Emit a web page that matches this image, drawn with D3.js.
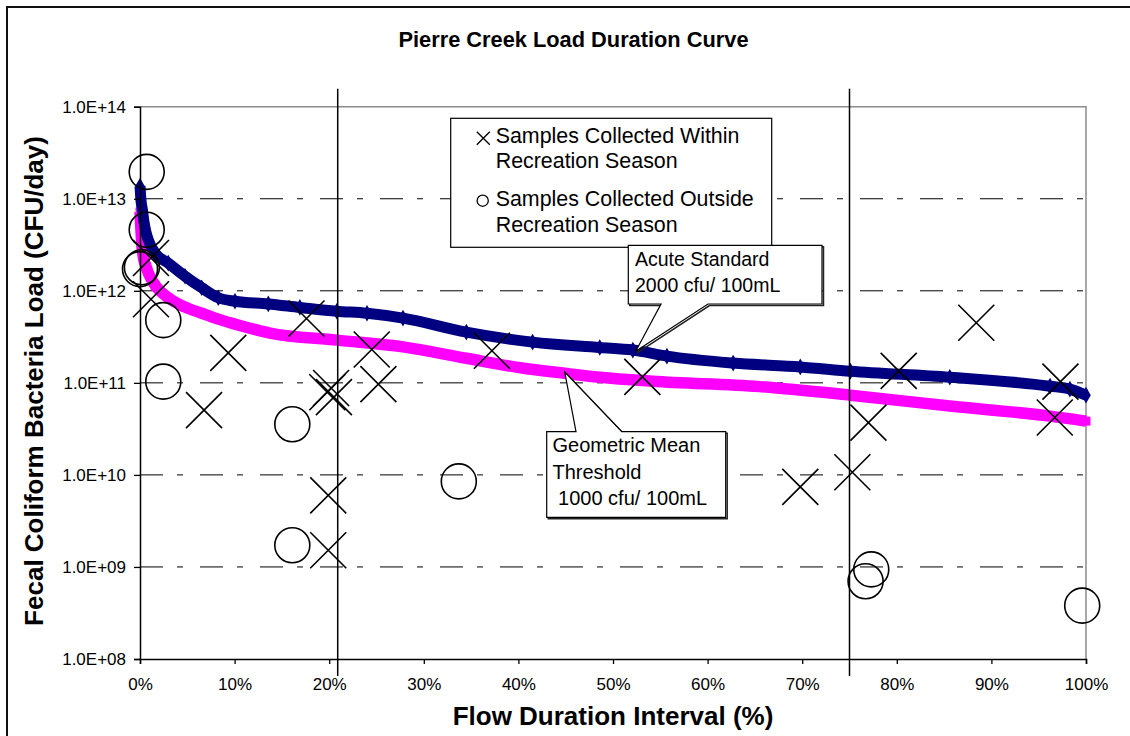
<!DOCTYPE html>
<html>
<head>
<meta charset="utf-8">
<script src="https://cdn.jsdelivr.net/npm/d3@7/dist/d3.min.js"></script>
<style>
    body { margin: 0; background: #fff; }
    text { font-family: Arial, "Liberation Sans", sans-serif; fill: #000; }
</style>
</head>
<body>
<div id="chart"></div>
<script>
// acute standard curve (2000 cfu/100mL)
const acutePct  = [0, 0.1, 0.26, 0.42, 0.63, 0.88, 1.59, 2.99, 4.76, 6.52, 8.28, 10.04, 13.56, 16.9, 20.8, 24.0, 27.8, 34.5, 41.5, 48.6, 52.1, 55.7, 62.7, 69.8, 75.1, 85.6, 96.2, 98.3, 100];
const acuteLoad = [1.37e13, 9.7e12, 7.5e12, 5.6e12, 4.35e12, 3.56e12, 2.57e12, 2.0e12, 1.44e12, 1.08e12, 8.4e11, 7.7e11, 7.2e11, 6.6e11, 6.0e11, 5.7e11, 5.05e11, 3.56e11, 2.77e11, 2.42e11, 2.27e11, 1.95e11, 1.64e11, 1.49e11, 1.34e11, 1.15e11, 9.2e10, 8.55e10, 7.35e10];

// geometric mean threshold curve (1000 cfu/100mL)
const geoPct  = [0, 0.1, 0.2, 0.37, 0.63, 0.88, 1.59, 2.99, 4.76, 6.52, 7.93, 10.04, 13.74, 20.8, 27.8, 34.5, 40.2, 44.9, 48.6, 54.2, 65.5, 75.1, 85.6, 96.2, 100];
const geoLoad = [7.2e12, 4.6e12, 3.14e12, 2.27e12, 1.85e12, 1.56e12, 1.15e12, 8.4e11, 6.65e11, 5.7e11, 5.05e11, 4.35e11, 3.47e11, 2.91e11, 2.46e11, 1.85e11, 1.46e11, 1.27e11, 1.15e11, 1.04e11, 9.1e10, 7.35e10, 5.6e10, 4.35e10, 3.84e10];

// samples within recreation season
const withinPct  = [1.16, 1.16, 6.77, 9.33, 17.6, 19.8, 20.2, 20.5, 19.9, 19.9, 24.5, 25.2, 37.2, 53.1, 69.8, 75.3, 77.0, 80.2, 88.4, 97.3, 96.7];
const withinLoad = [2.27e12, 8.1e11, 5.05e10, 2.12e11, 5.0e11, 7.9e10, 8.8e10, 7.0e10, 6.0e9, 1.52e9, 2.3e11, 9.7e10, 2.23e11, 1.16e11, 7.4e9, 1.07e10, 3.7e10, 1.35e11, 4.5e11, 1.03e11, 4.2e10];

// samples outside recreation season
const outsidePct  = [0.71, 0.71, 0.0, 0.2, 2.46, 2.46, 16.1, 16.1, 33.7, 77.3, 76.7, 99.6];
const outsideLoad = [1.96e13, 4.6e12, 1.72e12, 1.8e12, 4.8e11, 1.03e11, 3.55e10, 1.72e9, 8.5e9, 9.4e8, 7.0e8, 3.8e8];

const yTicks = [1e8, 1e9, 1e10, 1e11, 1e12, 1e13, 1e14];
const xTicks = [0, 10, 20, 30, 40, 50, 60, 70, 80, 90, 100];
const regimeBreaks = [20.9, 75.0];

const legendLabels = [
    ["Samples Collected Within", "Recreation Season"],
    ["Samples Collected Outside", "Recreation Season"]
];
const acuteLabel = ["Acute Standard", "2000 cfu/ 100mL"];
const geoLabel = ["Geometric Mean", "Threshold", " 1000 cfu/ 100mL"];

let width = 1130, height = 736;
let margin = {left: 140, right: 44, top: 106.7, bottom: 77};

let svg = d3.select("#chart")
    .append("svg")
    .attr("width", width)
    .attr("height", height);

let x = d3.scaleLinear().domain([0, 100]).range([margin.left, width - margin.right]);
let y = d3.scaleLog().domain([1e8, 1e14]).range([height - margin.bottom, margin.top]);

// outer chart frame
svg.append("rect")
    .attr("x", 7).attr("y", 7)
    .attr("width", 1140).attr("height", 760)
    .attr("fill", "none")
    .attr("stroke", "#111")
    .attr("stroke-width", 2);

// dashed gridlines
svg.append("g")
    .selectAll("line")
    .data(yTicks.slice(1, -1))
    .join("line")
    .attr("x1", x(0)).attr("x2", x(100))
    .attr("y1", d => y(d)).attr("y2", d => y(d))
    .attr("stroke", "#000")
    .attr("stroke-width", 1)
    .attr("stroke-dasharray", "23,14,6,17");

// plot area border top/right (grey)
svg.append("path")
    .attr("d", `M${x(0)},${y(1e14)}H${x(100)}V${y(1e8)}`)
    .attr("fill", "none")
    .attr("stroke", "#8c8c8c")
    .attr("stroke-width", 1.5);

let line = d3.line()
    .x(d => x(d[0]))
    .y(d => y(d[1]))
    .curve(d3.curveMonotoneX);

let geoData = geoPct.map((p, i) => [p, geoLoad[i]]);
let acuteData = acutePct.map((p, i) => [p, acuteLoad[i]]);

svg.append("path")
    .datum(geoData)
    .attr("d", line)
    .attr("fill", "none")
    .attr("stroke", "#ff00ff")
    .attr("stroke-width", 11.5)
    .attr("stroke-linejoin", "round");

svg.append("g")
    .selectAll("path")
    .data(geoData)
    .join("path")
    .attr("transform", d => `translate(${x(d[0])},${y(d[1])})`)
    .attr("d", d3.symbol(d3.symbolSquare, 80))
    .attr("fill", "#ff00ff");

svg.append("path")
    .datum(acuteData)
    .attr("d", line)
    .attr("fill", "none")
    .attr("stroke", "#000080")
    .attr("stroke-width", 11)
    .attr("stroke-linejoin", "round");

svg.append("g")
    .selectAll("path")
    .data(acuteData)
    .join("path")
    .attr("transform", d => `translate(${x(d[0])},${y(d[1])})`)
    .attr("d", d3.symbol(d3.symbolDiamond, 80))
    .attr("fill", "#000080");

// flow regime break lines
svg.append("g")
    .selectAll("line")
    .data(regimeBreaks)
    .join("line")
    .attr("x1", d => x(d)).attr("x2", d => x(d))
    .attr("y1", y(1e14) - 18).attr("y2", y(1e8) + 17)
    .attr("stroke", "#000")
    .attr("stroke-width", 1.5);

// samples
let crossPath = "M-18,-18L18,18M18,-18L-18,18";

svg.append("g")
    .selectAll("path")
    .data(withinPct.map((p, i) => [p, withinLoad[i]]))
    .join("path")
    .attr("transform", d => `translate(${x(d[0])},${y(d[1])})`)
    .attr("d", crossPath)
    .attr("fill", "none")
    .attr("stroke", "#000")
    .attr("stroke-width", 1.6);

svg.append("g")
    .selectAll("circle")
    .data(outsidePct.map((p, i) => [p, outsideLoad[i]]))
    .join("circle")
    .attr("cx", d => x(d[0]))
    .attr("cy", d => y(d[1]))
    .attr("r", 17.5)
    .attr("fill", "none")
    .attr("stroke", "#000")
    .attr("stroke-width", 1.6);

// axes
let yAxis = svg.append("g")
    .attr("transform", `translate(${x(0)},0)`)
    .call(d3.axisLeft(y)
        .tickValues(yTicks)
        .tickSize(6)
        .tickPadding(8)
        .tickFormat(d => "1.0E+" + String(Math.round(Math.log10(d))).padStart(2, "0")));

let xAxis = svg.append("g")
    .attr("transform", `translate(0,${y(1e8)})`)
    .call(d3.axisBottom(x)
        .tickValues(xTicks)
        .tickSize(5)
        .tickPadding(14)
        .tickFormat(d => d + "%"));

[xAxis, yAxis].forEach(a => {
    a.select(".domain").attr("stroke", "#000").attr("stroke-width", 1.5);
    a.selectAll(".tick line").attr("stroke", "#000").attr("stroke-width", 1.3);
    a.selectAll(".tick text")
        .attr("fill", "#000")
        .style("font-family", "Arial, 'Liberation Sans', sans-serif")
        .style("font-size", "17px");
});

// titles
svg.append("text")
    .attr("x", 573.5).attr("y", 46.5)
    .attr("text-anchor", "middle")
    .style("font-size", "21.8px")
    .style("font-weight", "bold")
    .text("Pierre Creek Load Duration Curve");

svg.append("text")
    .attr("x", (x(0) + x(100)) / 2).attr("y", 725)
    .attr("text-anchor", "middle")
    .style("font-size", "26px")
    .style("font-weight", "bold")
    .text("Flow Duration Interval (%)");

svg.append("text")
    .attr("transform", `translate(43,381) rotate(-90)`)
    .attr("text-anchor", "middle")
    .style("font-size", "26px")
    .style("font-weight", "bold")
    .text("Fecal Coliform Bacteria Load (CFU/day)");

// legend
let legend = svg.append("g").attr("transform", "translate(450.7,118.3)");
legend.append("rect")
    .attr("width", 321).attr("height", 129)
    .attr("fill", "#fff")
    .attr("stroke", "#000")
    .attr("stroke-width", 1.2);

legend.append("path")
    .attr("d", "M-6.5,-6.5L6.5,6.5M6.5,-6.5L-6.5,6.5")
    .attr("transform", "translate(32.6,20)")
    .attr("stroke", "#000")
    .attr("stroke-width", 1.3);

legend.append("circle")
    .attr("cx", 32).attr("cy", 82.4).attr("r", 5.6)
    .attr("fill", "none")
    .attr("stroke", "#000")
    .attr("stroke-width", 1.3);

legendLabels.forEach((lines, i) => {
    lines.forEach((t, j) => {
        legend.append("text")
            .attr("x", 45).attr("y", 24.5 + i * 63.5 + j * 25.5)
            .style("font-size", "21.4px")
            .text(t);
    });
});

// callouts
function callout(box, tip, wedge, onTop, lines, textX, baseY, lineGap, size) {
    let L = box[0], T = box[1], R = box[2], B = box[3];
    let d;
    if (onTop) {
        d = `M${L},${T}H${wedge[0]}L${tip[0]},${tip[1]}L${wedge[1]},${T}H${R}V${B}H${L}Z`;
    } else {
        d = `M${L},${T}H${R}V${B}H${wedge[1]}L${tip[0]},${tip[1]}L${wedge[0]},${B}H${L}Z`;
    }
    svg.append("path")
        .attr("d", d)
        .attr("transform", "translate(1.5,1.5)")
        .attr("fill", "none")
        .attr("stroke", "#222")
        .attr("stroke-width", 1.5);
    svg.append("path")
        .attr("d", d)
        .attr("fill", "#fff")
        .attr("stroke", "#000")
        .attr("stroke-width", 1.2);
    lines.forEach((t, j) => {
        svg.append("text")
            .attr("x", textX).attr("y", baseY + j * lineGap)
            .style("font-size", size + "px")
            .style("white-space", "pre")
            .attr("xml:space", "preserve")
            .text(t);
    });
}

callout([628.3, 245.3, 822, 304], [x(52.4), y(2.2e11)], [661, 708], false,
    acuteLabel, 635, 265.5, 26, 19.5);

callout([546.7, 431.7, 725.7, 517.3], [x(44.9), y(1.31e11)], [576, 621.7], true,
    geoLabel, 552.5, 452, 26.5, 20);
</script>
</body>
</html>
